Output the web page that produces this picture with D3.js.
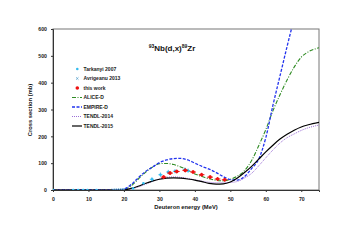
<!DOCTYPE html>
<html><head><meta charset="utf-8">
<script src="https://cdn.jsdelivr.net/npm/d3@7"></script>
<style>body{margin:0;background:#fff}svg{display:block;font-family:"Liberation Sans",Arial,sans-serif}</style>
</head><body><svg id="c" width="351" height="248"></svg>
<script>
const energies = [0, 18, 20, 22, 24, 26, 28, 30, 32, 34, 36, 38, 40, 42, 44, 46, 48, 50, 52, 54, 56, 58, 60, 62, 64, 66, 68, 70, 72, 75];
const aliceD   = [0, 0, 2, 15, 40, 65, 85, 98, 99, 95, 86, 74, 60, 50, 42, 36, 34, 40, 52, 72, 110, 165, 225, 295, 355, 410, 458, 495, 515, 530];
const empireD  = [0, 0, 3, 20, 45, 68, 85, 102, 112, 117, 118, 112, 100, 88, 78, 65, 50, 39, 37, 50, 80, 115, 195, 315, 425, 535, 640, null, null, null];
const tendl2014 = [0, 0, 0, 4, 11, 21, 32, 41, 47, 49, 47, 43, 38, 33, 29, 27, 27, 28, 32, 45, 62, 90, 120, 149, 175, 195, 209, 222, 232, 242];
const tendl2015 = [0, 0, 0, 6, 14, 24, 33, 40, 44, 45, 44, 41, 37, 31, 25, 22, 23, 30, 45, 65, 88, 115, 142, 167, 190, 208, 223, 235, 243, 252];

const tarkE = [0, 5.7, 7.1, 8.5, 9.7, 12.3, 22.6, 25.5, 27.9, 30.3, 32.5, 34.4, 37.2, 38.1];
const tarkV = [0, 0, 0, 0, 0, 0, 6, 25, 40, 57, 67, 70, 76, 72];
const avrE = [17, 17.6, 18.2, 18.8, 19.4, 20.0];
const avrV = [0.3, 0.5, 0.8, 1.2, 1.8, 2.5];
const workE = [31.2, 33.0, 34.9, 37.3, 39.5, 41.9, 44.3, 46.4, 48.4];
const workV = [48, 63, 69, 73, 67, 57, 48, 41, 38];
const workErrV = 7, workErrE = 0.8;

const xTicks = [0, 10, 20, 30, 40, 50, 60, 70];
const yTicks = [0, 100, 200, 300, 400, 500, 600];
const legendLabels = ["Tarkanyi 2007", "Avrigeanu 2013", "this work", "ALICE-D", "EMPIRE-D", "TENDL-2014", "TENDL-2015"];

const svg = d3.select("#c");
const L = 53, R = 319, T = 29, B = 190;
const x = d3.scaleLinear().domain([0, 75]).range([L, R]);
const y = d3.scaleLinear().domain([0, 600]).range([B, T]);

svg.append("rect").attr("width", 351).attr("height", 248).attr("fill", "#fff");
svg.append("defs").append("clipPath").attr("id", "clip")
  .append("rect").attr("x", L).attr("y", T).attr("width", R - L).attr("height", B - T);

// frame
svg.append("rect").attr("x", L).attr("y", T).attr("width", R - L).attr("height", B - T)
  .attr("fill", "none").attr("stroke", "#777").attr("stroke-width", 1);

// axes
const xAxis = svg.append("g").attr("transform", `translate(0,${B})`)
  .call(d3.axisBottom(x).tickValues(xTicks).tickSize(2).tickPadding(5));
const yAxis = svg.append("g").attr("transform", `translate(${L},0)`)
  .call(d3.axisLeft(y).tickValues(yTicks).tickSize(2).tickPadding(4));
[xAxis, yAxis].forEach(g => {
  g.select(".domain").attr("stroke", "#333").attr("stroke-width", 1);
  g.selectAll(".tick line").attr("stroke", "#333");
  g.selectAll("text").attr("font-size", 5.2).attr("font-weight", "bold")
    .attr("fill", "#222").attr("font-family", "Liberation Sans, Arial, sans-serif");
});

// axis titles
svg.append("text").attr("x", (L + R) / 2).attr("y", 208.5).attr("text-anchor", "middle")
  .attr("font-size", 5.8).attr("font-weight", "bold").attr("fill", "#111").text("Deuteron energy (MeV)");
svg.append("text").attr("transform", `translate(32,110) rotate(-90)`).attr("text-anchor", "middle")
  .attr("font-size", 5.8).attr("font-weight", "bold").attr("fill", "#111").text("Cross section (mb)");

// title
const title = svg.append("text").attr("x", 172).attr("y", 51).attr("text-anchor", "middle")
  .attr("font-size", 8).attr("font-weight", "bold").attr("fill", "#111");
title.append("tspan").attr("font-size", 5).attr("dy", -3).text("93");
title.append("tspan").attr("dy", 3).text("Nb(d,x)");
title.append("tspan").attr("font-size", 5).attr("dy", -3).text("89");
title.append("tspan").attr("dy", 3).text("Zr");

const plot = svg.append("g").attr("clip-path", "url(#clip)");

const series = [
  {vals: aliceD, color: "#2e8b22", width: 1.1, dash: "4,1.5,1,1.5"},
  {vals: empireD, color: "#2233ee", width: 1.3, dash: "3,1.5"},
  {vals: tendl2014, color: "#9b6fd6", width: 1, dash: "1,1"},
  {vals: tendl2015, color: "#000", width: 1.2, dash: null}
];
const line = d3.line().defined(d => d[1] != null).x(d => x(d[0])).y(d => y(d[1])).curve(d3.curveMonotoneX);
series.forEach(s => {
  const pts = energies.map((e, i) => [e, s.vals[i]]);
  plot.append("path").attr("d", line(pts)).attr("fill", "none")
    .attr("stroke", s.color).attr("stroke-width", s.width)
    .attr("stroke-dasharray", s.dash);
});

// Tarkanyi points
tarkE.forEach((e, i) => {
  if (tarkV[i] > 30) {
    plot.append("line").attr("x1", x(e)).attr("x2", x(e)).attr("y1", y(tarkV[i] - 8)).attr("y2", y(tarkV[i] + 8))
      .attr("stroke", "#33bbee").attr("stroke-width", 0.8);
    plot.append("line").attr("x1", x(e - 0.6)).attr("x2", x(e + 0.6)).attr("y1", y(tarkV[i])).attr("y2", y(tarkV[i]))
      .attr("stroke", "#33bbee").attr("stroke-width", 0.8);
  }
  plot.append("circle").attr("cx", x(e)).attr("cy", y(tarkV[i])).attr("r", 1.3).attr("fill", "#33bbee");
});
// Avrigeanu points
avrE.forEach((e, i) => {
  const cx = x(e), cy = y(avrV[i]), s = 1.3;
  plot.append("path").attr("d", `M${cx - s},${cy - s}L${cx + s},${cy + s}M${cx - s},${cy + s}L${cx + s},${cy - s}`)
    .attr("stroke", "#55a0cc").attr("stroke-width", 0.8);
});
// this work
workE.forEach((e, i) => {
  const cx = x(e), cy = y(workV[i]);
  plot.append("line").attr("x1", cx).attr("x2", cx).attr("y1", y(workV[i] - workErrV)).attr("y2", y(workV[i] + workErrV))
    .attr("stroke", "#ee1111").attr("stroke-width", 1);
  plot.append("line").attr("x1", x(e - workErrE)).attr("x2", x(e + workErrE)).attr("y1", cy).attr("y2", cy)
    .attr("stroke", "#ee1111").attr("stroke-width", 1);
  plot.append("circle").attr("cx", cx).attr("cy", cy).attr("r", 1.8).attr("fill", "#ee1111");
});

// legend
const lg = svg.append("g");
const rowY = i => 69 + i * 9.5;
legendLabels.forEach((lab, i) => {
  lg.append("text").attr("x", 83.5).attr("y", rowY(i) + 1.8).attr("font-size", 5).attr("font-weight", "bold")
    .attr("fill", "#222").text(lab);
});
lg.append("circle").attr("cx", 77.3).attr("cy", rowY(0)).attr("r", 1.3).attr("fill", "#33bbee");
{ const cx = 77.3, cy = rowY(1), s = 1.2;
  lg.append("path").attr("d", `M${cx - s},${cy - s}L${cx + s},${cy + s}M${cx - s},${cy + s}L${cx + s},${cy - s}`)
    .attr("stroke", "#55a0cc").attr("stroke-width", 0.8); }
lg.append("circle").attr("cx", 77.3).attr("cy", rowY(2)).attr("r", 1.8).attr("fill", "#ee1111");
series.forEach((s, i) => {
  lg.append("line").attr("x1", 72).attr("x2", 82).attr("y1", rowY(3 + i)).attr("y2", rowY(3 + i))
    .attr("stroke", s.color).attr("stroke-width", s.width).attr("stroke-dasharray", s.dash);
});
</script></body></html>
